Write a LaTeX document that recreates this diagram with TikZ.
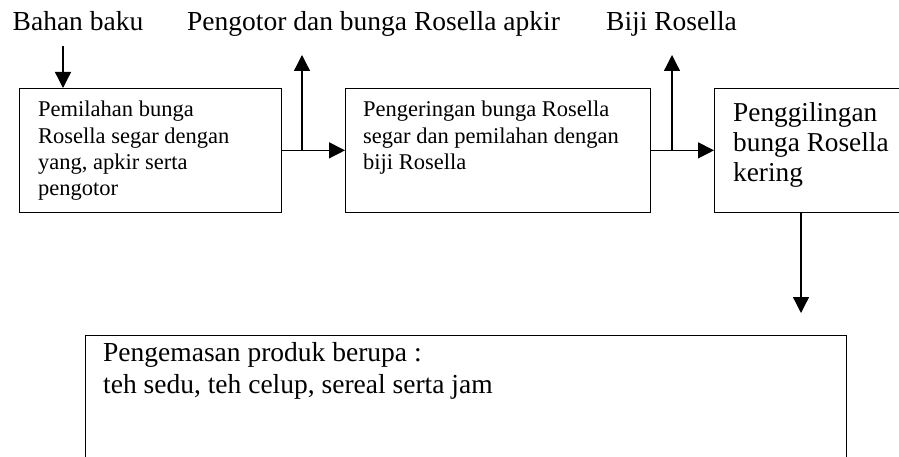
\documentclass[tikz,border=0pt]{standalone}
\usepackage{fontspec}
\setmainfont{Liberation Serif}
\usetikzlibrary{arrows.meta}
\tikzset{
  boxnode/.style={draw=black, line width=1.2pt, rectangle, inner sep=0pt, anchor=north west},
  arr/.style={draw=black, line width=1.3pt, -{Triangle[length=16pt,width=16pt]}},
  hdr/.style={anchor=base west, inner sep=0pt, font=\fontsize{27.5pt}{32pt}\selectfont},
  small/.style={anchor=base west, inner sep=0pt, font=\fontsize{22.5pt}{26pt}\selectfont},
  mid/.style={anchor=base west, inner sep=0pt, font=\fontsize{27.3pt}{30pt}\selectfont},
}
\begin{document}
\begin{tikzpicture}[x=1pt,y=-1pt]
\useasboundingbox (0,0) rectangle (899,457);
\clip (0,0) rectangle (899,457);
\fill[white] (0,0) rectangle (899,457);

% header labels
\node[hdr] (h1) at (12.5,31) {Bahan baku};
\node[hdr] (h2) at (187,31) {Pengotor dan bunga Rosella apkir};
\node[hdr] (h3) at (606,31) {Biji Rosella};

% boxes
\node[boxnode, minimum width=262pt, minimum height=123.5pt] (b1) at (19,88) {};
\node[boxnode, minimum width=305pt, minimum height=123.5pt] (b2) at (345,88) {};
\node[boxnode, minimum width=220pt, minimum height=123.5pt] (b3) at (714,88) {};
\node[boxnode, minimum width=761pt, minimum height=160pt] (b4) at (85,335) {};

% box texts
\node[small] (t11) at (38,117) {Pemilahan bunga};
\node[small] (t12) at (38,143.3) {Rosella segar dengan};
\node[small] (t13) at (38,169.6) {yang, apkir serta};
\node[small] (t14) at (38,196) {pengotor};

\node[small] (t21) at (363,117) {Pengeringan bunga Rosella};
\node[small] (t22) at (363,143.3) {segar dan pemilahan dengan};
\node[small] (t23) at (363,169.6) {biji Rosella};

\node[mid] (t31) at (733,122) {Penggilingan};
\node[mid] (t32) at (733,152) {bunga Rosella};
\node[mid] (t33) at (733,182) {kering};

\node[hdr] (t41) at (103,361) {Pengemasan produk berupa :};
\node[hdr] (t42) at (103,393) {teh sedu, teh celup, sereal serta jam};

% connectors
\coordinate (a0) at (63,46);
\draw[arr] (a0) -- (a0 |- b1.north);

\draw[arr] (b1.east) -- (b2.west);
\coordinate (u1) at (302,55);
\draw[arr] (u1 |- b1.east) -- (u1);

\draw[arr] (b2.east) -- (b2.east -| b3.west);
\coordinate (u2) at (672,55);
\draw[arr] (u2 |- b2.east) -- (u2);

\coordinate (d1) at (801,313);
\draw[arr] (d1 |- b3.south) -- (d1);
\end{tikzpicture}
\end{document}
